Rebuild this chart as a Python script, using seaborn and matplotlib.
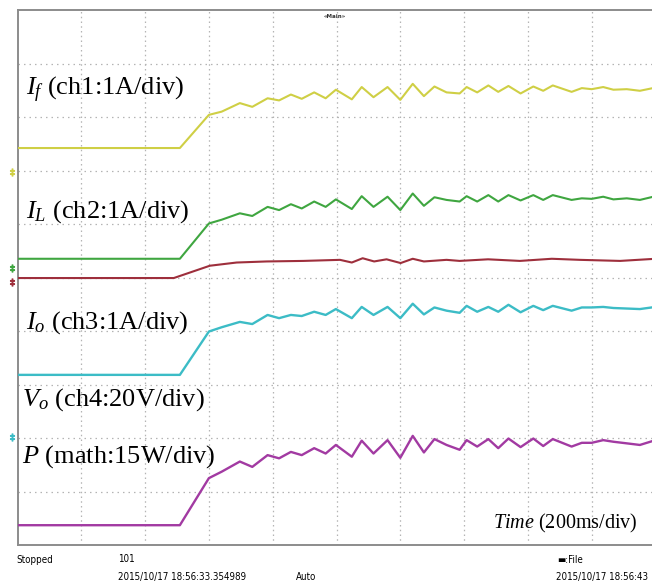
import numpy as np
import pandas as pd
import matplotlib
matplotlib.use("Agg")
import matplotlib.pyplot as plt
import seaborn as sns

# Time axis in ms (200 ms/div, 10 divisions); trace levels in screen divisions (0..10 from bottom)
t_ms = [0, 509, 600, 640, 697, 736, 784, 820, 857, 891, 930, 966, 998, 1048, 1079,
        1116, 1160, 1200, 1239, 1274, 1307, 1345, 1386, 1408, 1441, 1476, 1507, 1539,
        1577, 1617, 1648, 1678, 1737, 1769, 1800, 1836, 1868, 1910, 1951, 2000]

i_f = [7.42, 7.42, 8.04, 8.10, 8.26, 8.19, 8.35, 8.31, 8.42, 8.34, 8.46, 8.35, 8.51, 8.33, 8.56,
       8.37, 8.56, 8.32, 8.62, 8.39, 8.57, 8.46, 8.44, 8.56, 8.46, 8.59, 8.47, 8.58,
       8.44, 8.57, 8.49, 8.59, 8.47, 8.54, 8.52, 8.56, 8.51, 8.52, 8.49, 8.55]

i_l = [5.35, 5.35, 6.01, 6.08, 6.20, 6.15, 6.32, 6.26, 6.37, 6.29, 6.42, 6.32, 6.46, 6.28, 6.52,
       6.32, 6.51, 6.26, 6.57, 6.34, 6.50, 6.45, 6.42, 6.52, 6.42, 6.54, 6.42, 6.54,
       6.44, 6.54, 6.45, 6.54, 6.45, 6.48, 6.47, 6.51, 6.46, 6.48, 6.45, 6.52]

i_o = [3.18, 3.18, 3.99, 4.07, 4.17, 4.13, 4.30, 4.24, 4.30, 4.28, 4.36, 4.30, 4.41, 4.24, 4.45,
       4.30, 4.45, 4.24, 4.51, 4.31, 4.44, 4.38, 4.34, 4.47, 4.36, 4.45, 4.36, 4.49,
       4.35, 4.47, 4.39, 4.47, 4.38, 4.44, 4.44, 4.45, 4.43, 4.42, 4.41, 4.45]

p_math = [0.37, 0.37, 1.25, 1.37, 1.56, 1.46, 1.68, 1.62, 1.74, 1.68, 1.81, 1.71, 1.87, 1.65, 1.95,
          1.71, 1.96, 1.63, 2.04, 1.73, 1.98, 1.87, 1.78, 1.96, 1.84, 1.98, 1.81, 1.99,
          1.83, 1.99, 1.85, 1.98, 1.84, 1.91, 1.91, 1.96, 1.93, 1.90, 1.87, 1.96]

t_red = [0, 490, 603, 687, 781, 896, 1011, 1048, 1082, 1118, 1157, 1201, 1239, 1274,
         1345, 1386, 1475, 1575, 1675, 1763, 1889, 2000]
v_red = [4.99, 4.99, 5.22, 5.28, 5.30, 5.31, 5.33, 5.28, 5.36, 5.30, 5.34, 5.27, 5.35, 5.30,
         5.33, 5.31, 5.34, 5.31, 5.35, 5.33, 5.31, 5.35]

# Channel ground markers on the left edge (divisions)
gnd_levels = [6.97, 5.18, 4.92, 2.02]

trace_colors = {"ch1": "#cfcf45", "ch2": "#3fa640", "red": "#9e2f3c",
                "ch3": "#3cbcc6", "math": "#a23aa2"}
gnd_colors = ["#cfcf45", "#3fa640", "#9e2f3c", "#3cbcc6"]

sns.set_style("white")
plt.rcParams["font.family"] = ["Liberation Serif", "DejaVu Serif"]
plt.rcParams["mathtext.fontset"] = "custom"
plt.rcParams["mathtext.rm"] = "Liberation Serif"
plt.rcParams["mathtext.it"] = "Liberation Serif:italic"

W, H = 652, 583
fig = plt.figure(figsize=(W / 100, H / 100), dpi=100)
fig.patch.set_facecolor("white")
ax = fig.add_axes([17.5 / W, 38 / H, 638 / W, 535 / H])
ax.set_xlim(0, 2000)
ax.set_ylim(0, 10)
ax.set_xticks([])
ax.set_yticks([])
for side in ["left", "top", "bottom"]:
    ax.spines[side].set_color("#8c8c8c")
    ax.spines[side].set_linewidth(1.4)
ax.spines["right"].set_visible(False)

# Graticule
for k in range(1, 10):
    ax.axvline(200 * k, color="#b4b4b4", lw=0.9, ls=(0, (1.2, 2.6)), zorder=1)
    ax.axhline(k, color="#b4b4b4", lw=0.9, ls=(0, (1.2, 3.2)), zorder=1)

df = pd.concat([
    pd.DataFrame({"t": t_ms, "v": i_f, "ch": "ch1"}),
    pd.DataFrame({"t": t_ms, "v": i_l, "ch": "ch2"}),
    pd.DataFrame({"t": t_red, "v": v_red, "ch": "red"}),
    pd.DataFrame({"t": t_ms, "v": i_o, "ch": "ch3"}),
    pd.DataFrame({"t": t_ms, "v": p_math, "ch": "math"}),
], ignore_index=True)

widths = {"ch1": 1.5, "ch2": 1.5, "red": 1.5, "ch3": 1.7, "math": 1.7}
for ch, sub in df.groupby("ch", sort=False):
    sns.lineplot(data=sub, x="t", y="v", ax=ax, color=trace_colors[ch], lw=widths[ch],
                 sort=False, estimator=None, legend=False, zorder=3,
                 solid_joinstyle="round")
ax.set_xlabel("")
ax.set_ylabel("")

# Ground markers
for lvl, c in zip(gnd_levels, gnd_colors):
    ax.plot([-18], [lvl], marker=r"$\ddag$", ms=5, color=c, clip_on=False, zorder=4)

# Channel labels
lab_kw = dict(fontsize=19, color="black", va="baseline", ha="left", zorder=5)
ax.text(28, (545 - 95) / 53.5, r"$I_f$ (ch1:1A/div)", **lab_kw)
ax.text(28, (545 - 218) / 53.5, r"$I_L$ (ch2:1A/div)", **lab_kw)
ax.text(28, (545 - 329) / 53.5, r"$I_o$ (ch3:1A/div)", **lab_kw)
ax.text(14, (545 - 406) / 53.5, r"$V_o$ (ch4:20V/div)", **lab_kw)
ax.text(14, (545 - 463) / 53.5, r"$P$ (math:15W/div)", **lab_kw)
ax.text(1491, (545 - 528) / 53.5, r"$Time$ (200ms/div)", fontsize=14.5, color="black",
        va="baseline", ha="left", zorder=5)

# Status text of the scope
st_kw = dict(family="DejaVu Sans", fontstretch="condensed", fontsize=7.0,
             color="black", va="center", ha="left")
fig.text(16 / W, 1 - 560 / H, "Stopped", **st_kw)
fig.text(118 / W, 1 - 559 / H, "101", **st_kw)
fig.text(118 / W, 1 - 577 / H, "2015/10/17 18:56:33.354989", **st_kw)
fig.text(296 / W, 1 - 577 / H, "Auto", **st_kw)
fig.text(557 / W, 1 - 560 / H, "\u25ac:File", **st_kw)
fig.text(556 / W, 1 - 577 / H, "2015/10/17 18:56:43", **st_kw)
fig.text(335 / W, 1 - 16 / H, "\u00abMain\u00bb", family="DejaVu Sans", fontsize=4,
         weight="bold", color="#333333", ha="center", va="center")

fig.savefig("out.png", dpi=100, facecolor="white")
